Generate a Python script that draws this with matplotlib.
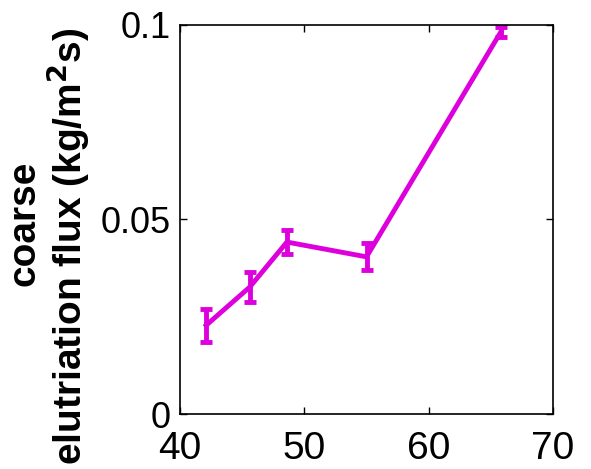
import matplotlib
matplotlib.use("Agg")
import matplotlib.pyplot as plt

x_vals = [42.1, 45.6, 48.6, 55.0, 65.8]
y_vals = [0.0228, 0.0326, 0.0442, 0.0404, 0.0982]
y_err = [0.0042, 0.0038, 0.0030, 0.0035, 0.0012]
x_ticks = [40, 50, 60, 70]
y_ticks = [0, 0.05, 0.1]
y_tick_labels = ["0", "0.05", "0.1"]

plt.rcParams['font.family'] = ['Liberation Sans', 'DejaVu Sans']

fig = plt.figure(figsize=(5.91, 4.69), dpi=100)
ax = fig.add_axes([180/591, 1-414/469, 373/591, 389/469])

color = '#dd00dd'
ax.errorbar(x_vals, y_vals, yerr=y_err, color=color, lw=3.5, elinewidth=3.5,
            capsize=4, capthick=3.5)

ax.set_xlim(40, 70)
ax.set_ylim(0, 0.1)
ax.set_xticks(x_ticks)
ax.set_yticks(y_ticks)
ax.set_yticklabels(y_tick_labels)
ax.tick_params(direction='in', top=True, right=True, length=5, width=1)
ax.tick_params(axis='x', labelsize=28, pad=12)
ax.tick_params(axis='y', labelsize=26, pad=7)
for s in ax.spines.values():
    s.set_linewidth(1.2)

ax.set_ylabel("elutriation flux (kg/m$^\\mathbf{2}$s)", fontsize=28,
              fontweight='bold')
ax.yaxis.set_label_coords(-0.235, 0.432)
fig.text(34/591, 1-223/469, "coarse", fontsize=28, fontweight='bold',
         rotation=90, rotation_mode='anchor', ha='center', va='baseline')

fig.savefig("out.png", dpi=100)
